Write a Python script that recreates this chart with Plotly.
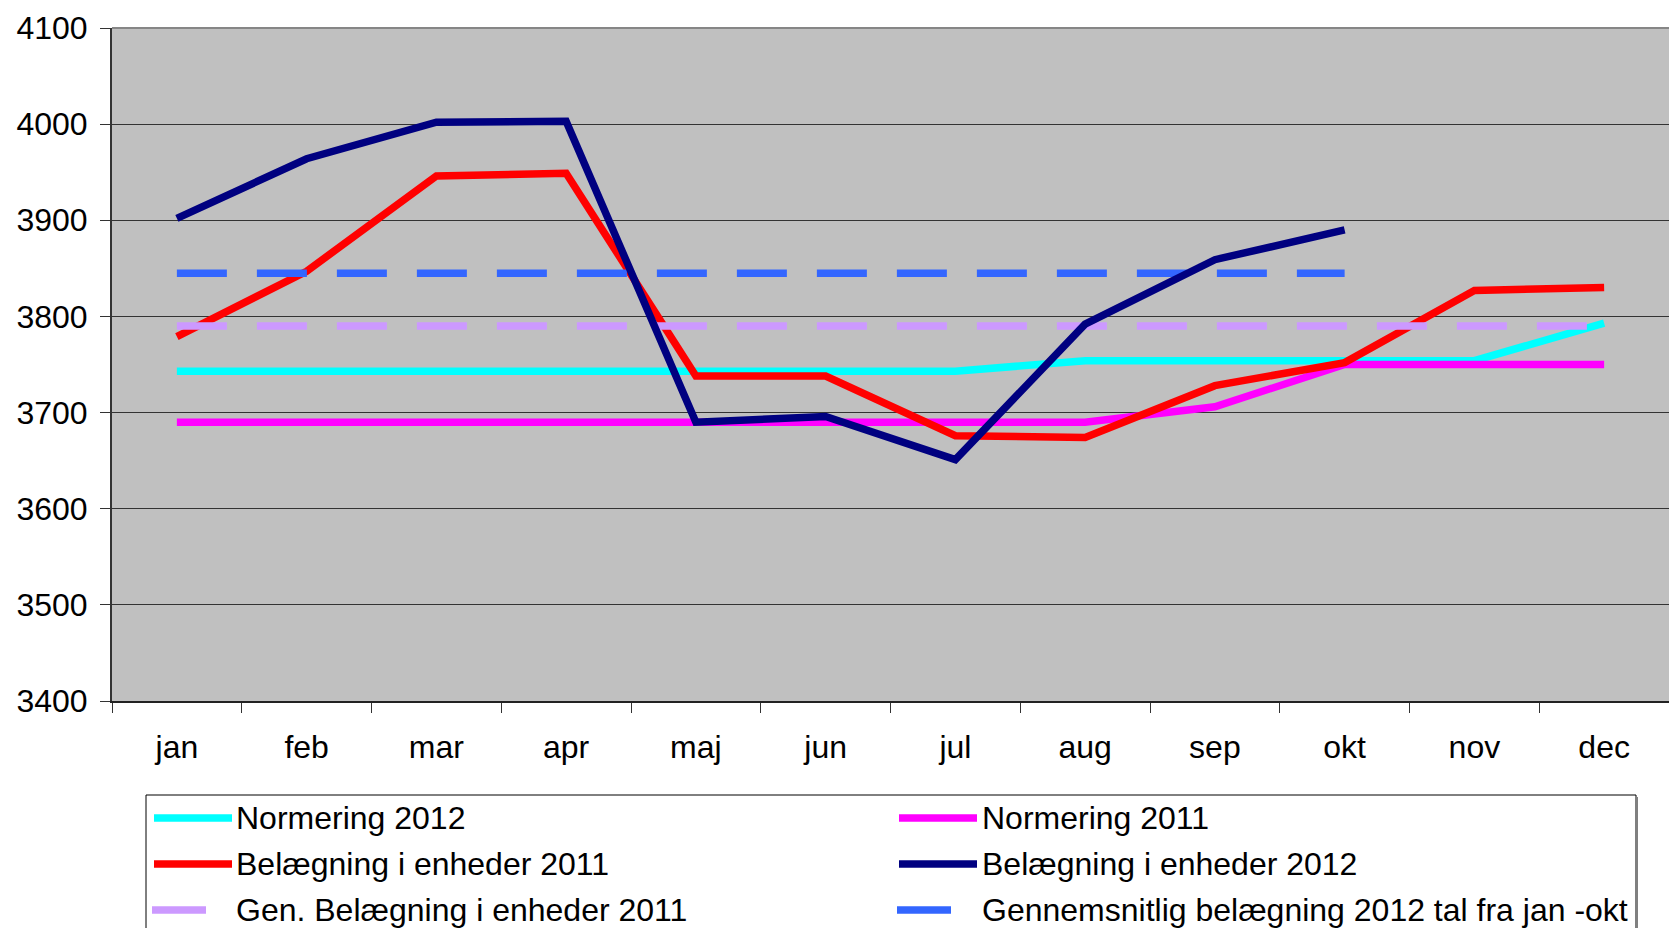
import plotly.graph_objects as go

# Months on the category axis
months = ["jan", "feb", "mar", "apr", "maj", "jun", "jul", "aug", "sep", "okt", "nov", "dec"]

# Series values
normering_2012 = [3743, 3743, 3743, 3743, 3743, 3743, 3743, 3754, 3754, 3754, 3754, 3793]
normering_2011 = [3690, 3690, 3690, 3690, 3690, 3690, 3690, 3690, 3706, 3750, 3750, 3750]
belaegning_2011 = [3779, 3847, 3946, 3949, 3738, 3738, 3676, 3674, 3728, 3752, 3827, 3830]
belaegning_2012 = [3902, 3964, 4002, 4003, 3690, 3696, 3651, 3792, 3859, 3890, None, None]
gen_belaegning_2011 = [3790, 3790, 3790, 3790, 3790, 3790, 3790, 3790, 3790, 3790, 3790, 3790]
gns_belaegning_2012 = [3845, 3845, 3845, 3845, 3845, 3845, 3845, 3845, 3845, 3845, None, None]

y_ticks = [3400, 3500, 3600, 3700, 3800, 3900, 4000, 4100]

# Series names, colours and dash styles (legend order: row by row, two columns)
names = [
    "Normering 2012",
    "Normering 2011",
    "Belægning i enheder 2011",
    "Belægning i enheder 2012",
    "Gen. Belægning i enheder 2011",
    "Gennemsnitlig belægning 2012 tal fra jan -okt",
]
colors = ["#00FFFF", "#FF00FF", "#FF0000", "#000080", "#CC99FF", "#3366FF"]
dashes = ["solid", "solid", "solid", "solid", "50px,30px", "50px,30px"]
values = [normering_2012, normering_2011, belaegning_2011, belaegning_2012,
          gen_belaegning_2011, gns_belaegning_2012]

W, H = 1669, 928
ML, MR, MT, MB = 112, 0, 28, 227
PW, PH = W - ML - MR, H - MT - MB
FONT = "Liberation Sans, Arial, sans-serif"
FS = 32

fig = go.Figure()

# drawing order: thin reference lines first, occupancy lines on top
draw_order = [0, 1, 2, 4, 5, 3]
for i in draw_order:
    fig.add_trace(go.Scatter(
        x=months, y=values[i], name=names[i], mode="lines",
        line=dict(color=colors[i], width=7.5, dash=dashes[i]),
        showlegend=False, hoverinfo="x+y+name",
    ))


def px_x(px):
    return (px - ML) / PW


def px_y(py):
    return (H - MB - py) / PH


shapes = []
annotations = []

# top border of the plot area
shapes.append(dict(type="line", xref="paper", yref="paper", x0=0, x1=1, y0=1, y1=1,
                   line=dict(color="#868686", width=2), layer="above"))

# legend frame (runs past the bottom edge of the page)
shapes.append(dict(type="rect", xref="paper", yref="paper",
                   x0=px_x(146), x1=px_x(1636), y0=px_y(960), y1=px_y(795),
                   line=dict(color="#000000", width=1), fillcolor="white", layer="below"))
shapes.append(dict(type="line", xref="paper", yref="paper",
                   x0=px_x(1637), x1=px_x(1637), y0=px_y(960), y1=px_y(797),
                   line=dict(color="#808080", width=2)))

# legend entries
row_y = [818, 864, 910]
col_sym = [(154, 232), (899, 977)]
col_sym_short = [(152, 206), (897, 951)]
col_text = [234, 980]
for k in range(6):
    r, c = divmod(k, 2)
    dashed = dashes[k] != "solid"
    x0, x1 = (col_sym_short if dashed else col_sym)[c]
    shapes.append(dict(type="line", xref="paper", yref="paper",
                       x0=px_x(x0), x1=px_x(x1), y0=px_y(row_y[r]), y1=px_y(row_y[r]),
                       line=dict(color=colors[k], width=7.5)))
    annotations.append(dict(xref="paper", yref="paper", x=px_x(col_text[c]),
                            y=px_y(row_y[r]), xanchor="left", yanchor="middle",
                            text=names[k], showarrow=False,
                            font=dict(family=FONT, size=FS, color="black")))

fig.update_layout(
    width=W, height=H,
    margin=dict(l=ML, r=MR, t=MT, b=MB, autoexpand=False),
    paper_bgcolor="white",
    plot_bgcolor="#C0C0C0",
    font=dict(family=FONT, size=FS, color="black"),
    shapes=shapes,
    annotations=annotations,
    showlegend=False,
)

fig.update_xaxes(
    type="category", categoryorder="array", categoryarray=months,
    range=[-0.5, 11.5], tickson="boundaries",
    ticks="outside", ticklen=10, tickwidth=1, tickcolor="#333333",
    showline=True, linecolor="#222222", linewidth=2,
    showgrid=False, tickfont=dict(size=FS), ticklabelstandoff=17,
)

fig.update_yaxes(
    range=[3400, 4100], tickvals=y_ticks, ticktext=[str(v) for v in y_ticks],
    ticks="outside", ticklen=10, tickwidth=1, tickcolor="#333333",
    showline=True, linecolor="#333333", linewidth=2,
    showgrid=True, gridcolor="#333333", gridwidth=1,
    zeroline=False, tickfont=dict(size=FS), ticklabelstandoff=6,
)

fig.write_html("out.html")
